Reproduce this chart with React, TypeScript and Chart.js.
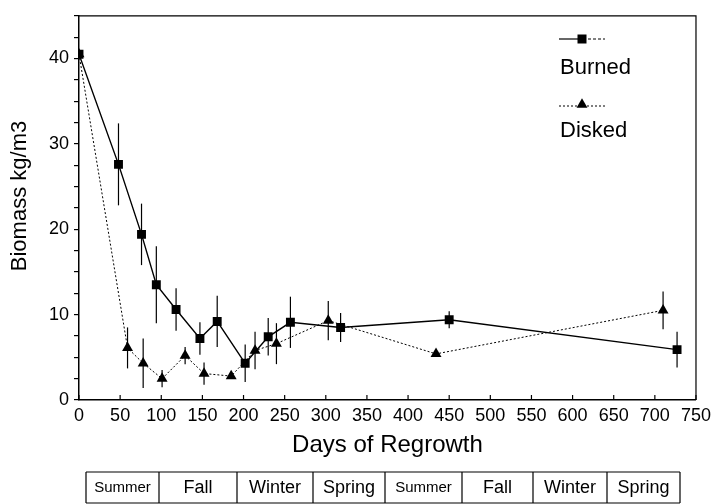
import React, { useEffect, useRef } from "react";
import { Chart, registerables } from "chart.js";

Chart.register(...registerables);

const FONT = "'Liberation Sans', Arial, Helvetica, sans-serif";

const burnedDays = [0, 48, 76, 94, 118, 147, 168, 202, 230, 257, 318, 450, 727];
const burnedValues = [40.5, 27.6, 19.4, 13.5, 10.6, 7.2, 9.2, 4.3, 7.4, 9.1, 8.5, 9.4, 5.9];
const burnedErr = [0, 4.8, 3.6, 4.5, 2.5, 1.9, 3.0, 2.2, 2.2, 3.0, 1.7, 1.0, 2.1];

const diskedDays = [0, 59, 78, 101, 129, 152, 185, 214, 240, 303, 434, 710];
const diskedValues = [40.5, 6.1, 4.3, 2.5, 5.2, 3.1, 2.8, 5.8, 6.6, 9.3, 5.4, 10.5];
const diskedErr = [0, 2.4, 2.9, 1.0, 1.0, 1.3, 0, 2.2, 2.4, 2.3, 0, 2.2];

const seriesNames = ["Burned", "Disked"];
const xTitle = "Days of Regrowth";
const yTitle = "Biomass kg/m3";
const seasons = ["Summer", "Fall", "Winter", "Spring", "Summer", "Fall", "Winter", "Spring"];

const errorBarPlugin = {
  id: "errorBars",
  beforeDatasetsDraw(chart: any) {
    const ctx = chart.ctx;
    const xs = chart.scales.x;
    const ys = chart.scales.y;
    const sets = [
      { d: burnedDays, v: burnedValues, e: burnedErr },
      { d: diskedDays, v: diskedValues, e: diskedErr },
    ];
    ctx.save();
    ctx.strokeStyle = "#000";
    ctx.lineWidth = 1.2;
    sets.forEach((s) => {
      s.d.forEach((day, i) => {
        if (!s.e[i]) return;
        const x = xs.getPixelForValue(day);
        ctx.beginPath();
        ctx.moveTo(x, ys.getPixelForValue(s.v[i] + s.e[i]));
        ctx.lineTo(x, ys.getPixelForValue(s.v[i] - s.e[i]));
        ctx.stroke();
      });
    });
    ctx.restore();
  },
};

const decorPlugin = {
  id: "decor",
  afterDraw(chart: any) {
    const ctx = chart.ctx;
    const a = chart.chartArea;
    const xs = chart.scales.x;
    ctx.save();
    ctx.strokeStyle = "#000";
    ctx.fillStyle = "#000";
    // frame top & right
    ctx.lineWidth = 1.2;
    ctx.beginPath();
    ctx.moveTo(a.left, a.top);
    ctx.lineTo(a.right, a.top);
    ctx.lineTo(a.right, a.bottom);
    ctx.stroke();
    // inward x ticks
    xs.ticks.forEach((t: any) => {
      const x = xs.getPixelForValue(t.value);
      ctx.beginPath();
      ctx.moveTo(x, a.bottom);
      ctx.lineTo(x, a.bottom - 5);
      ctx.stroke();
    });
    // axis titles
    ctx.textAlign = "center";
    ctx.textBaseline = "alphabetic";
    ctx.font = `24px ${FONT}`;
    ctx.fillText(xTitle, (a.left + a.right) / 2, 452);
    ctx.font = `22px ${FONT}`;
    ctx.save();
    ctx.translate(26, 196);
    ctx.rotate(-Math.PI / 2);
    ctx.fillText(yTitle, 0, 0);
    ctx.restore();

    // legend
    ctx.lineWidth = 1.2;
    ctx.beginPath();
    ctx.moveTo(559, 39);
    ctx.lineTo(583, 39);
    ctx.stroke();
    ctx.setLineDash([3, 2]);
    ctx.lineWidth = 1;
    ctx.beginPath();
    ctx.moveTo(583, 39);
    ctx.lineTo(605, 39);
    ctx.stroke();
    ctx.setLineDash([]);
    ctx.fillRect(582 - 4.5, 39 - 4.5, 9, 9);
    ctx.setLineDash([2, 2]);
    ctx.lineWidth = 1;
    ctx.beginPath();
    ctx.moveTo(559, 106);
    ctx.lineTo(605, 106);
    ctx.stroke();
    ctx.setLineDash([]);
    const r = 6.3;
    const ty = 104.5;
    ctx.beginPath();
    ctx.moveTo(582, ty - r);
    ctx.lineTo(582 + r * 0.866, ty + r / 2);
    ctx.lineTo(582 - r * 0.866, ty + r / 2);
    ctx.closePath();
    ctx.fill();
    ctx.font = `22px ${FONT}`;
    ctx.textAlign = "left";
    ctx.fillText(seriesNames[0], 560, 74);
    ctx.fillText(seriesNames[1], 560, 137);

    // season table
    const edges = [86, 159, 237, 313, 385, 462, 533, 607, 680];
    const top = 472;
    const bottom = 503;
    ctx.lineWidth = 1.2;
    ctx.beginPath();
    ctx.moveTo(edges[0], top);
    ctx.lineTo(edges[edges.length - 1], top);
    ctx.moveTo(edges[0], bottom);
    ctx.lineTo(edges[edges.length - 1], bottom);
    edges.forEach((e) => {
      ctx.moveTo(e, top);
      ctx.lineTo(e, bottom);
    });
    ctx.stroke();
    ctx.textAlign = "center";
    ctx.textBaseline = "alphabetic";
    seasons.forEach((s, i) => {
      const cx = (edges[i] + edges[i + 1]) / 2;
      if (s === "Summer") {
        ctx.font = `15px ${FONT}`;
        ctx.fillText(s, cx, 492);
      } else {
        ctx.font = `18px ${FONT}`;
        ctx.fillText(s, cx, 493);
      }
    });
    ctx.restore();
  },
};

export default function App() {
  const ref = useRef<HTMLCanvasElement | null>(null);
  useEffect(() => {
    if (!ref.current) return;
    const chart = new Chart(ref.current, {
      type: "line",
      data: {
        datasets: [
          {
            label: seriesNames[0],
            data: burnedDays.map((d, i) => ({ x: d, y: burnedValues[i] })),
            borderColor: "#000",
            backgroundColor: "#000",
            borderWidth: 1.4,
            pointStyle: "rect",
            pointRadius: 6.3,
            pointBorderWidth: 0,
            tension: 0,
          },
          {
            label: seriesNames[1],
            data: diskedDays.map((d, i) => ({ x: d, y: diskedValues[i] })),
            borderColor: "#000",
            backgroundColor: "#000",
            borderWidth: 1,
            borderDash: [2, 2],
            pointStyle: "triangle",
            pointRadius: 6.3,
            pointBorderWidth: 0,
            tension: 0,
          },
        ],
      },
      options: {
        animation: false,
        responsive: false,
        maintainAspectRatio: false,
        layout: { padding: { top: 12, right: 18, left: 0, bottom: 0 } },
        plugins: { legend: { display: false }, tooltip: { enabled: false } },
        scales: {
          x: {
            type: "linear",
            min: 0,
            max: 750,
            ticks: {
              stepSize: 50,
              autoSkip: false,
              maxRotation: 0,
              color: "#000",
              padding: 5,
              font: { family: FONT, size: 18 },
            },
            grid: { drawOnChartArea: false, drawTicks: false, color: "#000" },
            border: { color: "#000", width: 1.5 },
            afterFit: (s: any) => {
              s.height = 104;
            },
          },
          y: {
            type: "linear",
            min: 0,
            max: 45,
            ticks: {
              stepSize: 2.5,
              autoSkip: false,
              color: "#000",
              padding: 5,
              font: { family: FONT, size: 18 },
              callback: (v: any) => (Number(v) % 10 === 0 ? String(v) : ""),
            },
            grid: { drawOnChartArea: false, drawTicks: true, tickLength: 5, color: "#000", lineWidth: 1.2 },
            border: { color: "#000", width: 1.5 },
            afterFit: (s: any) => {
              s.width = 79;
            },
          },
        },
      },
      plugins: [errorBarPlugin, decorPlugin],
    } as any);
    return () => chart.destroy();
  }, []);
  return (
    <div style={{ position: "fixed", left: 0, top: 0, width: 716, height: 504, background: "#fff" }}>
      <canvas ref={ref} width={716} height={504} style={{ width: 716, height: 504 }} />
    </div>
  );
}
